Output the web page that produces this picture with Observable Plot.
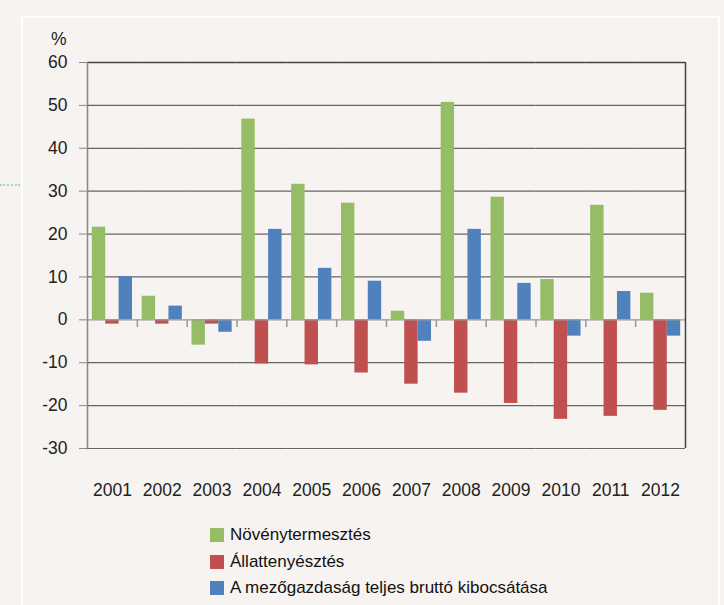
<!DOCTYPE html>
<html>
<head>
<meta charset="utf-8">
<script src="https://cdn.jsdelivr.net/npm/d3@7"></script>
<script src="https://cdn.jsdelivr.net/npm/@observablehq/plot@0.6"></script>
<style>
  html, body { margin: 0; padding: 0; background: #f6f3f0; }
  #wrap { position: relative; width: 724px; height: 605px; overflow: hidden; background: #f6f3f0; }
  #frame { position: absolute; left: 21px; top: 16px; width: 695px; height: 620px; border: 2px solid #fff; border-bottom: none; }
  #dots { position: absolute; left: 0; top: 184px; width: 20px; border-top: 2px dotted #a9d6c6; }
  #chart { position: absolute; left: 0; top: 0; }
  #unit { position: absolute; left: 51px; top: 29px; font: 17.5px "Liberation Sans", Arial, sans-serif; color: #222; }
  #legend { position: absolute; left: 210px; top: 522px; font: 17px "Liberation Sans", Arial, sans-serif; color: #111; }
  .item { display: flex; align-items: center; height: 26.5px; }
  .sw { width: 14px; height: 14px; margin-right: 6px; }
</style>
</head>
<body>
<div id="wrap">
  <div id="frame"></div>
  <div id="dots"></div>
  <div id="chart"></div>
  <div id="unit">%</div>
  <div id="legend"></div>
</div>
<script>
const years = ["2001","2002","2003","2004","2005","2006","2007","2008","2009","2010","2011","2012"];
const series = ["Növénytermesztés", "Állattenyésztés", "A mezőgazdaság teljes bruttó kibocsátása"];
const novenytermesztes = [21.6, 5.5, -5.9, 46.8, 31.6, 27.2, 2.0, 50.7, 28.6, 9.4, 26.7, 6.2];
const allattenyesztes = [-1.0, -1.0, -1.0, -10.3, -10.5, -12.4, -15.0, -17.1, -19.5, -23.2, -22.5, -21.1];
const teljesKibocsatas = [10.1, 3.2, -2.9, 21.1, 12.0, 9.0, -5.0, 21.1, 8.5, -3.8, 6.6, -3.8];
const yTicks = [-30, -20, -10, 0, 10, 20, 30, 40, 50, 60];
const colors = ["#95bd65", "#c0504f", "#4f81bd"];

const valuesBySeries = [novenytermesztes, allattenyesztes, teljesKibocsatas];
const data = [];
years.forEach((yr, i) => series.forEach((s, j) => data.push({year: yr, series: s, value: valuesBySeries[j][i]})));

const W = 724, H = 510, ML = 87, MR = 39, MT = 62, MB = 62;
const padOuter = 0.36;
const facetW = (W - ML - MR) / years.length;
const step = facetW / (series.length + 2 * padOuter);
const edge = step / 2 + step * padOuter; // from band centre of first/last series to facet edge

const font = '"Liberation Sans", Arial, sans-serif';

const chart = Plot.plot({
  width: W, height: H,
  marginLeft: ML, marginRight: MR, marginTop: MT, marginBottom: MB,
  style: {background: "transparent", fontFamily: font, color: "#222"},
  fx: {domain: years, padding: 0, round: false, label: null},
  x: {domain: series, paddingInner: 0, paddingOuter: padOuter, round: false, axis: null},
  y: {domain: [-30, 60], label: null},
  color: {domain: series, range: colors},
  marks: [
    Plot.ruleY(yTicks.filter(d => d !== 0 && d !== 60), {y: d => d, stroke: "#666", strokeWidth: 1.2}),
    Plot.ruleY([60], {stroke: "#444", strokeWidth: 1.5}),
    Plot.barY(data, {fx: "year", x: "series", y: "value", fill: "series"}),
    Plot.ruleY([0], {stroke: "#999", strokeWidth: 1.3}),
    Plot.ruleX(years.slice(1).map(y => ({year: y})), {fx: "year", x: () => series[0], y1: 0, y2: -1.8, dx: -edge, stroke: "#999", strokeWidth: 1.5}),
    Plot.ruleX([{year: years[0]}], {fx: "year", x: () => series[0], y1: -30, y2: 60, dx: -edge, stroke: "#888", strokeWidth: 1.5}),
    Plot.ruleX([{year: years[years.length - 1]}], {fx: "year", x: () => series[2], y1: -30, y2: 60, dx: edge, stroke: "#444", strokeWidth: 1.5}),
    Plot.axisY({ticks: yTicks, tickFormat: d => String(d), tickSize: 8, tickPadding: 12, stroke: "#888", fill: "#222", fontSize: 17.5, label: null}),
    Plot.axisFx({anchor: "bottom", tickSize: 0, tickPadding: 35, fontSize: 17.5, fill: "#222", label: null})
  ]
});
document.getElementById("chart").appendChild(chart);

const legend = document.getElementById("legend");
series.forEach((s, i) => {
  const row = document.createElement("div");
  row.className = "item";
  const sw = document.createElement("div");
  sw.className = "sw";
  sw.style.background = colors[i];
  const t = document.createElement("span");
  t.textContent = s;
  row.appendChild(sw);
  row.appendChild(t);
  legend.appendChild(row);
});
</script>
</body>
</html>
